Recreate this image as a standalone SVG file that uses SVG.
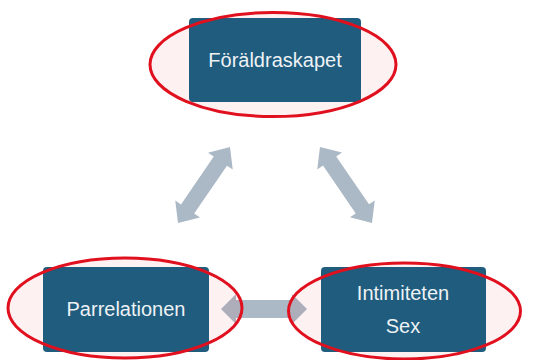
<svg xmlns="http://www.w3.org/2000/svg" width="543" height="360" viewBox="0 0 543 360">
  <style>
    .box { fill: #1f5c7e; }
    .label { font-family: "Liberation Sans", Arial, sans-serif; font-size: 20px; fill: #eef2f5; text-anchor: middle; }
    .halo { fill: #e8102a; fill-opacity: 0.06; }
    .ring { fill: none; stroke: #e0101e; stroke-width: 3; }
    .arrow { fill: #abb8c5; }
  </style>
  <rect width="543" height="360" fill="#ffffff"/>

  <g id="connectors">
    <!-- Föräldraskapet <-> Parrelationen -->
    <polygon class="arrow" transform="translate(178,223) rotate(-55.6)"
      points="0,0 17,-15 17,-8 75,-8 75,-15 92,0 75,15 75,8 17,8 17,15"/>
    <!-- Föräldraskapet <-> Intimiteten/Sex -->
    <polygon class="arrow" transform="translate(320,147) rotate(55.6)"
      points="0,0 17,-15 17,-8 75,-8 75,-15 92,0 75,15 75,8 17,8 17,15"/>
    <!-- Parrelationen <-> Intimiteten/Sex -->
    <polygon class="arrow" transform="translate(221,309)"
      points="0,0 15,-15 15,-9 71,-9 71,-15 86,0 71,15 71,9 15,9 15,15"/>
  </g>

  <g id="node-foraldraskapet">
    <ellipse class="halo" cx="273" cy="64.5" rx="123" ry="52"/>
    <rect class="box" x="189" y="18" width="172" height="84" rx="4"/>
    <text class="label" x="275" y="67">Föräldraskapet</text>
    <ellipse class="ring" cx="273" cy="64.5" rx="123" ry="52"/>
  </g>

  <g id="node-parrelationen">
    <ellipse class="halo" cx="125" cy="308" rx="117" ry="50"/>
    <rect class="box" x="43" y="267" width="166" height="85" rx="4"/>
    <text class="label" x="126" y="316">Parrelationen</text>
    <ellipse class="ring" cx="125" cy="308" rx="117" ry="50"/>
  </g>

  <g id="node-intimiteten">
    <ellipse class="halo" cx="404.5" cy="311" rx="116" ry="48"/>
    <rect class="box" x="321" y="267" width="165" height="85" rx="4"/>
    <text class="label" x="403" y="300">Intimiteten</text>
    <text class="label" x="403" y="333">Sex</text>
    <ellipse class="ring" cx="404.5" cy="311" rx="116" ry="48"/>
  </g>
</svg>
